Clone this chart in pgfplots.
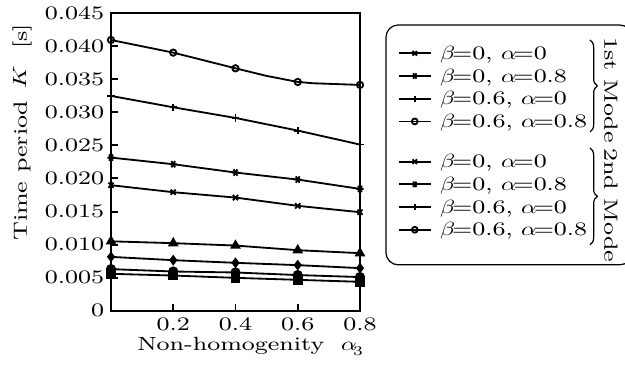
\documentclass[border=0pt]{standalone}
\usepackage{fontspec}
\usepackage{unicode-math}
\setmainfont{Latin Modern Roman}[Scale=0.783, FakeStretch=1.28]
\setmathfont{Latin Modern Math}[Scale=0.783, FakeStretch=1.28]
\usepackage{pgfplots}
\pgfplotsset{compat=1.18}
\usetikzlibrary{decorations.pathreplacing}
\begin{document}
\begin{tikzpicture}
\pgfplotsset{
  myleg/.style={
    legend style={draw=none, fill=none, inner sep=0pt, outer sep=0pt, row sep=0pt, column sep=3.5pt,
      nodes={inner sep=0.25pt, text height=6.9pt, text depth=1.9pt}},
    legend cell align=left,
    legend image code/.code={\draw[mark repeat=2,mark phase=2,##1] plot coordinates {(0pt,0pt) (6.5pt,0pt) (13pt,0pt)};},
  },
}
\begin{axis}[
  width=102pt, height=122pt, scale only axis,
  xmin=0, xmax=0.8, ymin=0, ymax=0.045,
  xtick={0.2,0.4,0.6,0.8}, xticklabels={0.2,0.4,0.6,0.8},
  ytick={0,0.005,0.010,0.015,0.020,0.025,0.030,0.035,0.040,0.045},
  yticklabels={0,0.005,0.010,0.015,0.020,0.025,0.030,0.035,0.040,0.045},
  scaled y ticks=false,
  tick align=inside, tick pos=left, major tick length=2.8pt,
  axis line style={line width=0.9pt},
  every tick/.style={line width=0.8pt, black},
  clip=false,
  xlabel={Non-homogenity\ \ $\alpha_3$},
  ylabel={Time period\hspace{5pt}$K$\hspace{9pt}[s]},
  xlabel style={at={(rel axis cs:0.558,-0.134)}, anchor=base},
  ylabel style={at={(rel axis cs:-0.357,0.599)}, anchor=center},
  myleg,
  legend style={at={(rel axis cs:1.1526,0.9027)}, anchor=north west},
  every axis plot/.append style={line width=0.75pt, black},
]
% 1st mode
\addplot[forget plot, mark=o, mark size=1.3pt, mark indices={1,2,3,5,7}] coordinates {(0,0.04092)(0.2,0.03901)(0.4,0.03664)(0.5,0.03549)(0.6,0.03458)(0.65,0.03438)(0.8,0.03413)};
\addplot[forget plot, mark=+, mark size=1.5pt] coordinates {(0,0.03247)(0.2,0.03075)(0.4,0.02914)(0.6,0.02723)(0.8,0.02512)};
\addplot[forget plot, mark=asterisk, mark size=1.5pt, mark options={rotate=90}] coordinates {(0,0.02315)(0.2,0.02215)(0.4,0.02089)(0.6,0.01983)(0.8,0.01842)};
\addplot[forget plot, mark=x, mark size=1.5pt] coordinates {(0,0.01898)(0.2,0.01792)(0.4,0.01711)(0.6,0.01586)(0.8,0.0149)};
% 2nd mode
\addplot[forget plot, mark=triangle*, mark size=1.8pt] coordinates {(0,0.0105)(0.2,0.01022)(0.4,0.00986)(0.6,0.00916)(0.8,0.00871)};
\addplot[forget plot, mark=diamond*, mark size=1.6pt] coordinates {(0,0.00815)(0.2,0.00765)(0.4,0.00725)(0.6,0.0069)(0.8,0.00645)};
\addplot[forget plot, mark=*, mark size=1.7pt] coordinates {(0,0.0063)(0.2,0.00594)(0.4,0.00579)(0.6,0.0054)(0.8,0.0051)};
\addplot[forget plot, mark=square*, mark size=1.6pt] coordinates {(0,0.00559)(0.2,0.00533)(0.4,0.00498)(0.6,0.00468)(0.8,0.00438)};
% legend group 1
\addlegendimage{line width=0.75pt, mark=x, mark size=1.3pt}
\addlegendimage{line width=0.75pt, mark=asterisk, mark size=1.3pt, mark options={rotate=90}}
\addlegendimage{line width=0.75pt, mark=+, mark size=1.3pt}
\addlegendimage{line width=0.75pt, mark=o, mark size=1.2pt}
\legend{{$\beta$=0,\ $\alpha$=0},{$\beta$=0,\ $\alpha$=0.8},{$\beta$=0.6,\ $\alpha$=0},{$\beta$=0.6,\ $\alpha$=0.8}}
% legend frame, braces, labels
\draw[rounded corners=5pt, line width=0.5pt] (rel axis cs:1.1044,0.1544) rectangle (rel axis cs:2.092,0.9597);
\draw[decorate, decoration={brace, amplitude=3pt}, line width=0.5pt] (rel axis cs:1.9237,0.9094) -- (rel axis cs:1.9237,0.6007);
\draw[decorate, decoration={brace, amplitude=3pt}, line width=0.5pt] (rel axis cs:1.9237,0.547) -- (rel axis cs:1.9237,0.2215);
\node[rotate=-90, anchor=west, inner sep=0pt] at (rel axis cs:2.008,0.9195) {1st Mode};
\node[rotate=-90, anchor=west, inner sep=0pt] at (rel axis cs:2.008,0.547) {2nd Mode};
\coordinate (bbll) at (rel axis cs:-0.4458,-0.1812);
\coordinate (bbur) at (rel axis cs:2.0643,1.0436);
\end{axis}
\begin{axis}[
  width=102pt, height=122pt, scale only axis, hide axis,
  xmin=0, xmax=0.8, ymin=0, ymax=0.045,
  myleg,
  legend style={at={(rel axis cs:1.1526,0.539)}, anchor=north west},
]
\addlegendimage{line width=0.75pt, mark=x, mark size=1.3pt}
\addlegendimage{line width=0.75pt, mark=asterisk, mark size=1.3pt, mark options={rotate=90}}
\addlegendimage{line width=0.75pt, mark=+, mark size=1.3pt}
\addlegendimage{line width=0.75pt, mark=o, mark size=1.2pt}
\legend{{$\beta$=0,\ $\alpha$=0},{$\beta$=0,\ $\alpha$=0.8},{$\beta$=0.6,\ $\alpha$=0},{$\beta$=0.6,\ $\alpha$=0.8}}
\end{axis}
\pgfresetboundingbox
\path[use as bounding box] (bbll) rectangle (bbur);
\end{tikzpicture}
\end{document}
